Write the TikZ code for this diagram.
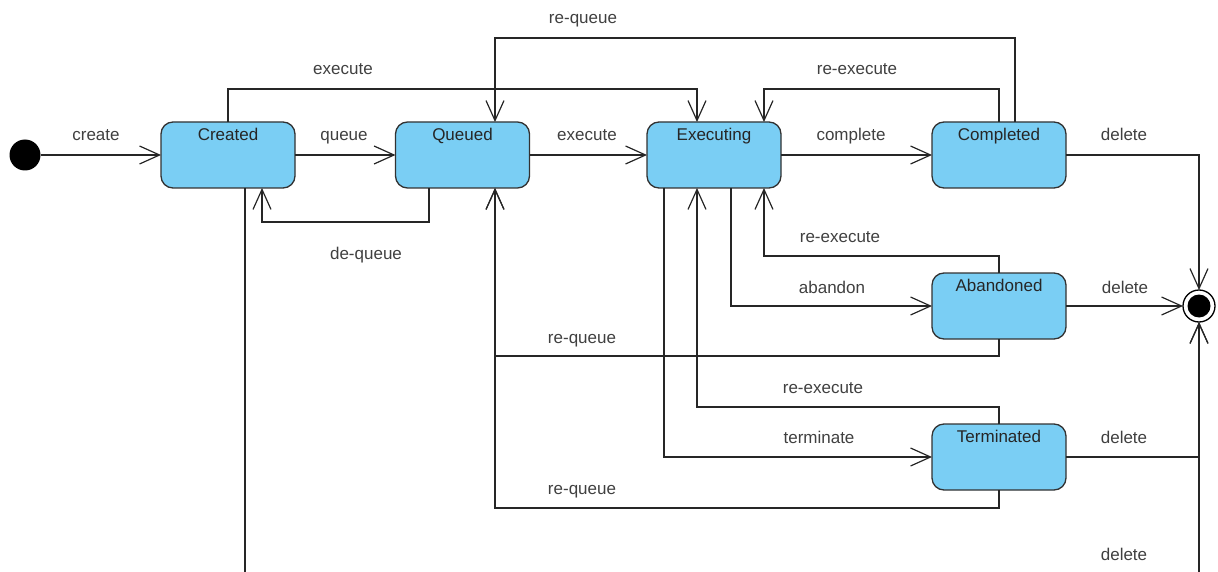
\documentclass[tikz,border=0pt]{standalone}
\usepackage{fontspec}
\setmainfont{Liberation Sans}
\usetikzlibrary{arrows.meta}
\definecolor{statefill}{RGB}{122,206,244}
\definecolor{stateedge}{RGB}{50,50,50}
\definecolor{labeltext}{RGB}{64,64,64}
\begin{document}
\begin{tikzpicture}[x=1pt,y=-1pt,
  state/.style={draw=stateedge, fill=statefill, line width=1.3pt, rounded corners=12pt,
    minimum width=134pt, minimum height=66pt, inner sep=0pt, outer sep=0pt},
  statename/.style={anchor=north, yshift=-3pt, inner sep=3pt, text=black!85,
    font=\fontsize{17}{20}\selectfont},
  tr/.style={draw=black!85, line width=1.2pt,
    -{Straight Barb[length=20pt,width=18pt,line width=1.2pt]}},
  tline/.style={draw=black!85, line width=1.2pt},
  tlabel/.style={anchor=base, text=labeltext, inner sep=0pt,
    font=\fontsize{17}{20}\selectfont}]
\useasboundingbox (0,0) rectangle (1218,572);
\clip (0,0) rectangle (1218,572);

% pseudo states
\node[circle, fill=black, minimum size=31pt, inner sep=0pt, outer sep=0pt] (init) at (25,155) {};
\node[circle, draw=black, line width=1.3pt, fill=white, minimum size=32pt, inner sep=0pt, outer sep=0pt,
  path picture={\fill[black] (path picture bounding box.center) circle (11.5pt);}] (final) at (1199,306) {};

% states
\node[state, label={[statename]north:Created}]    (created)    at (228,155)   {};
\node[state, label={[statename]north:Queued}]     (queued)     at (462.5,155) {};
\node[state, label={[statename]north:Executing}]  (executing)  at (714,155)   {};
\node[state, label={[statename]north:Completed}]  (completed)  at (999,155)   {};
\node[state, label={[statename]north:Abandoned}]  (abandoned)  at (999,306)   {};
\node[state, label={[statename]north:Terminated}] (terminated) at (999,457)   {};

% main flow
\draw[tr] (init) -- (created.west);
\draw[tr] (created.east) -- (queued.west);
\draw[tr] (queued.east) -- (executing.west);
\draw[tr] (executing.east) -- (completed.west);

% transitions above the states
\draw[tr] (created.north) -- ++(0,-33) -| ([xshift=-17pt]executing.north);
\draw[tr] ([xshift=16pt]completed.north) -- ++(0,-84) -| ([xshift=32.5pt]queued.north);
\draw[tr] (completed.north) -- ++(0,-33) -| ([xshift=50pt]executing.north);

% de-queue
\draw[tr] ([xshift=-33.5pt]queued.south) -- ++(0,34) -| ([xshift=34pt]created.south);

% out of Executing
\draw[tr] ([xshift=17pt]executing.south) |- (abandoned.west);
\draw[tr] ([xshift=-50pt]executing.south) |- (terminated.west);

% back to Executing
\draw[tr] (abandoned.north) -- ++(0,-17) -| ([xshift=50pt]executing.south);
\draw[tr] (terminated.north) -- ++(0,-17) -| ([xshift=-17pt]executing.south);

% back to Queued
\draw[tr] (abandoned.south) -- ++(0,17) -| ([xshift=32.5pt]queued.south);
\draw[tr] (terminated.south) -- ++(0,18) -| ([xshift=32.5pt]queued.south);

% deletions
\draw[tr] (completed.east) -| (final.north);
\draw[tr] (abandoned.east) -- (final.west);
\draw[tr] (terminated.east) -| (final.south);
\draw[tr] ([xshift=17pt]created.south) -- ++(0,420) -| (final.south);

% transition labels
\node[tlabel] (l-create)    at (96,141)   {create};
\node[tlabel] (l-queue)     at (344,141)  {queue};
\node[tlabel] (l-exec1)     at (587,141)  {execute};
\node[tlabel] (l-complete)  at (851,141)  {complete};
\node[tlabel] (l-del1)      at (1124,141) {delete};
\node[tlabel] (l-exec2)     at (343,75)   {execute};
\node[tlabel] (l-reexec1)   at (857,75)   {re-execute};
\node[tlabel] (l-requeue1)  at (583,24)   {re-queue};
\node[tlabel] (l-dequeue)   at (366,259)  {de-queue};
\node[tlabel] (l-reexec2)   at (840,242)  {re-execute};
\node[tlabel] (l-abandon)   at (832,293)  {abandon};
\node[tlabel] (l-del2)      at (1125,293) {delete};
\node[tlabel] (l-requeue2)  at (582,343)  {re-queue};
\node[tlabel] (l-reexec3)   at (823,393)  {re-execute};
\node[tlabel] (l-terminate) at (819,443)  {terminate};
\node[tlabel] (l-del3)      at (1124,443) {delete};
\node[tlabel] (l-requeue3)  at (582,494)  {re-queue};
\node[tlabel] (l-del4)      at (1124,560) {delete};
\end{tikzpicture}
\end{document}
